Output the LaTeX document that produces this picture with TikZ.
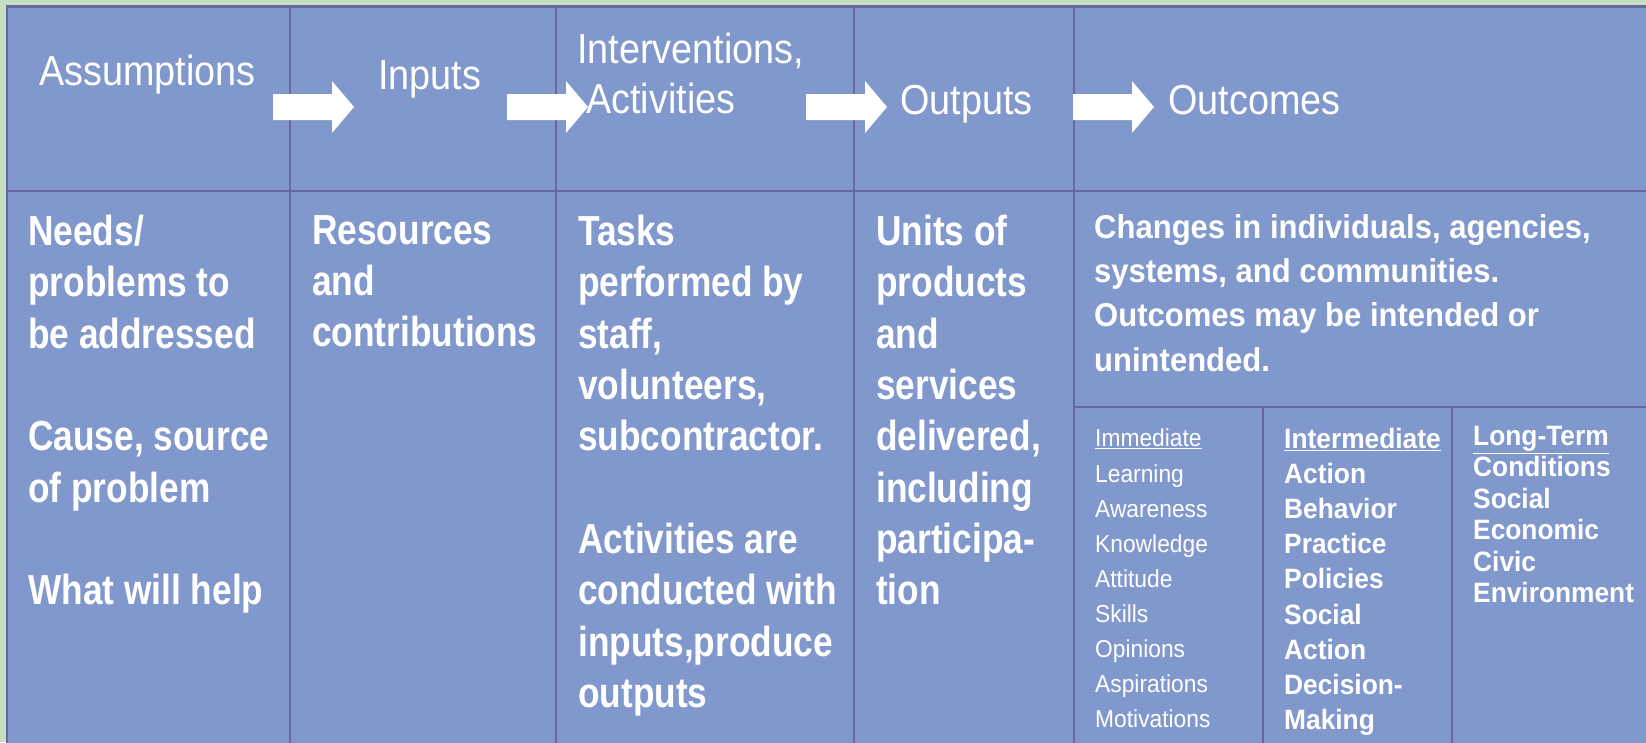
\documentclass[tikz,border=0pt]{standalone}
\usepackage{fontspec}
\setmainfont{Liberation Sans}
\newfontfamily\headfont{Liberation Sans}[FakeStretch=0.9]
\newfontfamily\listfont{Liberation Sans}[FakeStretch=0.93]
\newfontfamily\bodyfont{Liberation Sans}[FakeStretch=0.84]
\newfontfamily\smallbold{Liberation Sans}[FakeStretch=0.94]
\definecolor{bggreen}{RGB}{197,223,192}
\definecolor{cellblue}{RGB}{128,152,204}
\definecolor{gridline}{RGB}{104,104,158}
\tikzset{
  cell/.style={text=white, anchor=north west, inner sep=0pt, align=left},
  headtext/.style={cell, font={\headfont\fontsize{42}{50}\selectfont}},
  bodytext/.style={cell, font={\bodyfont\bfseries\fontsize{42}{51.3}\selectfont}},
  changestext/.style={cell, font={\smallbold\bfseries\fontsize{33}{44.4}\selectfont}},
  listtext/.style={cell, font={\listfont\fontsize{24.5}{35.1}\selectfont}},
  boldlist/.style={cell, font={\smallbold\bfseries\fontsize{28}{35.1}\selectfont}},
  grid/.style={draw=gridline, line width=2.8pt}
}
\begin{document}
\begin{tikzpicture}[x=1pt, y=-1pt]
        \useasboundingbox (0,0) rectangle (1646,742);
        \clip (0,0) rectangle (1646,742);
        \fill[bggreen] (0,0) rectangle (1646,742);
        \filldraw[grid, fill=cellblue] (7,6.5) rectangle (1660,760);
        \foreach \x in {290,556,854,1074}
            \draw[grid] (\x,6.5) -- (\x,760);
        \draw[grid] (7,191) -- (1660,191);
        \draw[grid] (1074,407) -- (1660,407);
        \foreach \x in {1263,1452}
            \draw[grid] (\x,407) -- (\x,760);
        \foreach \x in {273,507,806,1073}
            \fill[white] (\x,94) -- ++(59,0) -- ++(0,-13) -- ++(22,26) -- ++(-22,26) -- ++(0,-13) -- ++(-59,0) -- cycle;
        \node[headtext] (assump) at (39,55) {Assumptions};
        \node[headtext] (inputs) at (378,60) {Inputs};
        \node[headtext] (interv) at (577,33) {Interventions,\\\hspace*{9pt}Activities};
        \node[headtext] (outputs) at (900,85) {Outputs};
        \node[headtext] (outcomes) at (1168,85) {Outcomes};
        \node[bodytext] (needs) at (28,215) {Needs/\\problems to\\be addressed\\[51.3pt]Cause, source\\of problem\\[51.3pt]What will help};
        \node[bodytext] (resources) at (312,215) {Resources\\and\\contributions};
        \node[bodytext] (tasks) at (578,215) {Tasks\\performed by\\staff,\\volunteers,\\subcontractor.\\[51.3pt]Activities are\\conducted with\\inputs,produce\\outputs};
        \node[bodytext] (units) at (876,215) {Units of\\products\\and\\services\\delivered,\\including\\participa-\\tion};
        \node[changestext] (changes) at (1094,214) {Changes in individuals, agencies,\\systems, and communities.\\Outcomes may be intended or\\unintended.};
        \node[listtext] (immediate) at (1095,429) {\underline{Immediate}\\Learning\\Awareness\\Knowledge\\Attitude\\Skills\\Opinions\\Aspirations\\Motivations};
        \node[boldlist] (intermediate) at (1284,428) {\underline{Intermediate}\\Action\\Behavior\\Practice\\Policies\\Social\\Action\\Decision-\\Making};
        \node[boldlist, font={\smallbold\bfseries\fontsize{28}{31.4}\selectfont}] (longterm) at (1473,426) {\underline{Long-Term}\\Conditions\\Social\\Economic\\Civic\\Environment};
    \end{tikzpicture}
\end{document}
